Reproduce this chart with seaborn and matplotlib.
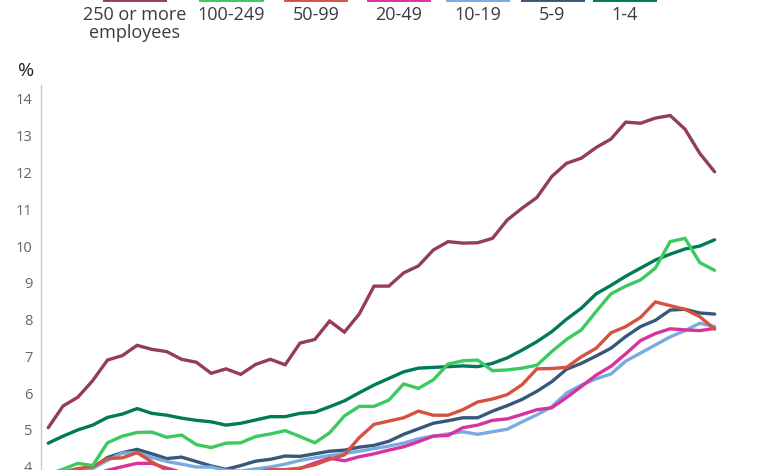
import matplotlib
matplotlib.use("Agg")
import matplotlib.pyplot as plt
from matplotlib.lines import Line2D
import seaborn as sns
import pandas as pd
import numpy as np

# ---- data (quarterly points) ----
periods = list(range(46))
labels = ["250 or more\nemployees", "100-249", "50-99", "20-49", "10-19", "5-9", "1-4"]

s250 = [5.06, 5.65, 5.89, 6.34, 6.90, 7.02, 7.30, 7.19, 7.13, 6.92, 6.84, 6.54, 6.66, 6.51,
        6.78, 6.92, 6.77, 7.36, 7.46, 7.96, 7.66, 8.15, 8.91, 8.91, 9.27, 9.46, 9.89, 10.12,
        10.08, 10.09, 10.21, 10.71, 11.03, 11.32, 11.89, 12.25, 12.39, 12.68, 12.91, 13.37,
        13.34, 13.48, 13.55, 13.18, 12.52, 12.02]
s100 = [3.80, 3.93, 4.09, 4.03, 4.65, 4.83, 4.93, 4.94, 4.80, 4.86, 4.60, 4.52, 4.64, 4.65,
        4.82, 4.89, 4.98, 4.82, 4.65, 4.92, 5.38, 5.64, 5.64, 5.81, 6.25, 6.13, 6.36, 6.79,
        6.88, 6.90, 6.61, 6.63, 6.68, 6.76, 7.13, 7.46, 7.72, 8.22, 8.70, 8.91, 9.08, 9.40,
        10.12, 10.21, 9.55, 9.34]
s50 = [3.75, 3.85, 3.95, 4.00, 4.22, 4.24, 4.38, 4.13, 3.90, 3.80, 3.75, 3.70, 3.70, 3.75,
       3.85, 3.92, 3.92, 3.96, 4.05, 4.20, 4.32, 4.79, 5.15, 5.24, 5.33, 5.51, 5.40, 5.40,
       5.55, 5.76, 5.84, 5.96, 6.23, 6.66, 6.67, 6.70, 6.99, 7.22, 7.64, 7.81, 8.06, 8.48,
       8.38, 8.28, 8.08, 7.74]
s20 = [3.50, 3.60, 3.70, 3.80, 3.90, 4.00, 4.09, 4.09, 3.96, 3.85, 3.75, 3.70, 3.65, 3.70,
       3.75, 3.80, 3.85, 3.95, 4.10, 4.23, 4.16, 4.27, 4.35, 4.45, 4.54, 4.68, 4.83, 4.85,
       5.06, 5.13, 5.26, 5.30, 5.42, 5.55, 5.60, 5.88, 6.18, 6.49, 6.73, 7.07, 7.43, 7.62,
       7.75, 7.72, 7.70, 7.76]
s10 = [3.65, 3.75, 3.85, 3.95, 4.17, 4.37, 4.38, 4.25, 4.14, 4.07, 3.99, 3.99, 3.90, 3.88,
       3.94, 3.99, 4.07, 4.17, 4.24, 4.30, 4.36, 4.42, 4.49, 4.56, 4.64, 4.76, 4.83, 4.89,
       4.95, 4.88, 4.95, 5.02, 5.22, 5.41, 5.63, 6.00, 6.22, 6.39, 6.52, 6.87, 7.09, 7.31,
       7.53, 7.70, 7.90, 7.81]
s5 = [3.70, 3.80, 3.90, 3.97, 4.25, 4.38, 4.47, 4.35, 4.22, 4.26, 4.14, 4.02, 3.93, 4.03,
      4.15, 4.20, 4.29, 4.28, 4.35, 4.42, 4.45, 4.53, 4.58, 4.69, 4.88, 5.03, 5.18, 5.25,
      5.33, 5.33, 5.51, 5.66, 5.83, 6.05, 6.31, 6.65, 6.81, 7.01, 7.22, 7.54, 7.81, 7.98,
      8.26, 8.28, 8.18, 8.15]
s1 = [4.64, 4.83, 5.00, 5.13, 5.34, 5.43, 5.58, 5.45, 5.40, 5.32, 5.26, 5.22, 5.13, 5.18,
      5.27, 5.36, 5.36, 5.45, 5.48, 5.63, 5.79, 6.01, 6.22, 6.40, 6.58, 6.68, 6.70, 6.72,
      6.74, 6.72, 6.81, 6.96, 7.17, 7.40, 7.67, 8.01, 8.31, 8.70, 8.93, 9.18, 9.40, 9.62,
      9.78, 9.92, 10.00, 10.17]
series = [s250, s100, s50, s20, s10, s5, s1]
colors = ["#923F56", "#3CC95E", "#D6513F", "#D7329E", "#7AAAE0", "#38587B", "#007A57"]
y_ticks = [4, 5, 6, 7, 8, 9, 10, 11, 12, 13, 14]

# ---- figure ----
sns.set_theme(style="white")
FONT = ["Open Sans", "DejaVu Sans"]
plt.rcParams["font.family"] = FONT

W, H = 780, 470
fig = plt.figure(figsize=(W / 100, H / 100), dpi=100)

# axes geometry in pixels
x_left, x_right = 40.7, 722.0
y_top_px = 85.0
ymin, ymax = 3.0, 14.38
px_per_unit = 36.77
y_bottom_px = y_top_px + (ymax - ymin) * px_per_unit
ax = fig.add_axes([x_left / W, 1 - y_bottom_px / H, (x_right - x_left) / W,
                   (y_bottom_px - y_top_px) / H])

rows = []
for lab, vals in zip(labels, series):
    for p, v in zip(periods, vals):
        rows.append({"period": p, "value": v, "group": lab})
df = pd.DataFrame(rows)

for lab, col in reversed(list(zip(labels, colors))):
    sns.lineplot(data=df[df["group"] == lab], x="period", y="value", color=col,
                 linewidth=2.4, ax=ax, legend=False, solid_joinstyle="miter")

ax.set_xlim(-0.51, 45.5)
ax.set_ylim(ymin, ymax)
ax.set_yticks(y_ticks)
ax.set_yticklabels([str(t) for t in y_ticks], color="#666666", fontsize=10.5)
ax.set_xticks([])
ax.tick_params(axis="y", length=0, pad=6)
ax.set_xlabel("")
ax.set_ylabel("")
for side in ["top", "right", "bottom"]:
    ax.spines[side].set_visible(False)
ax.spines["left"].set_color("#c8c8c8")
ax.spines["left"].set_linewidth(1.0)

fig.text(18 / W, 1 - 76 / H, "%", fontsize=14, color="#222222", va="baseline", ha="left")

# ---- legend (handle line above, label centered below) ----
centers = [135, 231.5, 316, 399, 478, 552.5, 625]
for c, lab, col in zip(centers, labels, colors):
    fig.add_artist(Line2D([(c - 32) / W, (c + 32) / W], [1 - 0.0 / H, 1 - 0.0 / H],
                          color=col, linewidth=2.8, transform=fig.transFigure,
                          solid_capstyle="butt"))
    fig.text(c / W, 1 - 6.5 / H, lab, ha="center", va="top", fontsize=13,
             color="#3a3a45", linespacing=0.95)

fig.savefig("out.png", dpi=100)
